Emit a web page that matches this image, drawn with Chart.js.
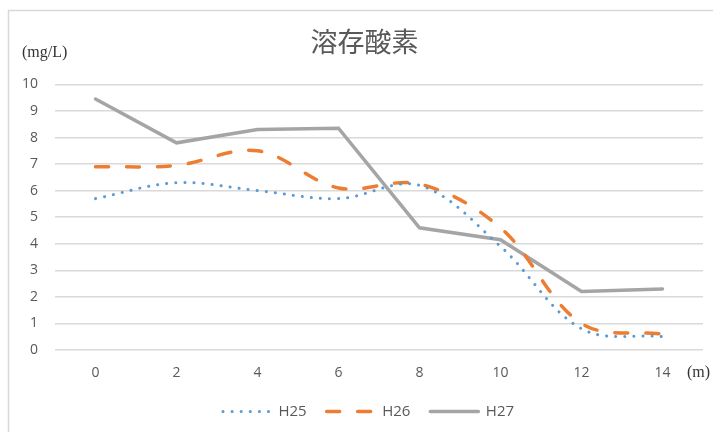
<!DOCTYPE html>
<html lang="ja">
<head>
  <meta charset="UTF-8">
  <title>溶存酸素</title>
  <style>
    html, body {
      margin: 0;
      padding: 0;
      background: #ffffff;
    }

    .frame {
      position: relative;
      width: 713px;
      height: 432px;
    }

    #doChart {
      display: block;
    }
  </style>
</head>
<body>
  <div class="frame">
    <canvas id="doChart" width="713" height="432"></canvas>
  </div>

  <script src="https://cdn.jsdelivr.net/npm/chart.js"></script>
  <script>
    const depths = ['0', '2', '4', '6', '8', '10', '12', '14'];
    const h25 = [5.7, 6.3, 6.0, 5.7, 6.2, 3.9, 0.8, 0.5];
    const h26 = [6.9, 6.95, 7.5, 6.1, 6.25, 4.6, 1.0, 0.6];
    const h27 = [9.45, 7.8, 8.3, 8.35, 4.6, 4.15, 2.2, 2.3];
    const yTicks = [0, 1, 2, 3, 4, 5, 6, 7, 8, 9, 10];

    const textColor = '#595959';

    // units, outer border, and title/legend nudged right like the original
    const extras = {
      id: 'extras',
      afterLayout(chart) {
        chart.legend.left += 12;
        chart.legend.right += 12;
        chart.titleBlock.left += 8;
        chart.titleBlock.right += 8;
      },
      afterDraw(chart) {
        const ctx = chart.ctx;
        ctx.save();
        ctx.strokeStyle = '#d9d9d9';
        ctx.lineWidth = 1.5;
        ctx.strokeRect(8.5, 10.5, 720, 440);
        ctx.fillStyle = '#333333';
        ctx.font = '16px "Liberation Serif"';
        ctx.textBaseline = 'middle';
        ctx.textAlign = 'left';
        ctx.fillText('(mg/L)', 22, 53);
        ctx.fillText('(m)', 687, 373);
        ctx.restore();
      }
    };

    new Chart(document.getElementById('doChart'), {
      type: 'line',
      data: {
        labels: depths,
        datasets: [{
          label: 'H25',
          data: h25,
          borderColor: '#5b9bd5',
          backgroundColor: '#5b9bd5',
          borderWidth: 3,
          borderDash: [0.1, 9],
          borderCapStyle: 'round',
          tension: 0.35,
          pointRadius: 0
        }, {
          label: 'H26',
          data: h26,
          borderColor: '#ed7d31',
          backgroundColor: '#ed7d31',
          borderWidth: 3.5,
          borderDash: [13, 18],
          borderCapStyle: 'round',
          tension: 0.35,
          pointRadius: 0
        }, {
          label: 'H27',
          data: h27,
          borderColor: '#a5a5a5',
          backgroundColor: '#a5a5a5',
          borderWidth: 3.5,
          borderCapStyle: 'round',
          tension: 0,
          pointRadius: 0
        }]
      },
      options: {
        responsive: false,
        animation: false,
        layout: {
          padding: { left: 10, right: 10, top: 10, bottom: 3 }
        },
        plugins: {
          title: {
            display: true,
            text: '溶存酸素',
            color: textColor,
            font: { family: '"Noto Sans CJK JP"', size: 27, weight: 'normal' },
            padding: { top: 16, bottom: 26 }
          },
          legend: {
            position: 'bottom',
            labels: {
              usePointStyle: true,
              pointStyle: 'line',
              pointStyleWidth: 48,
              boxHeight: 3,
              color: textColor,
              padding: 20,
              font: { family: '"Open Sans"', size: 15 },
              generateLabels(chart) {
                return chart.data.datasets.map((ds, i) => ({
                  text: ds.label,
                  datasetIndex: i,
                  fillStyle: ds.borderColor,
                  strokeStyle: ds.borderColor,
                  fontColor: textColor,
                  lineWidth: ds.borderWidth,
                  lineDash: ds.borderDash || [],
                  lineCap: ds.borderCapStyle,
                  pointStyle: 'line',
                  hidden: false
                }));
              }
            }
          },
          tooltip: { enabled: false }
        },
        scales: {
          x: {
            offset: true,
            afterFit(scale) { scale.height = 34; },
            grid: { display: false },
            border: { display: false },
            ticks: {
              color: textColor,
              padding: 7,
              font: { family: '"Open Sans"', size: 14 }
            }
          },
          y: {
            min: 0,
            max: 10,
            afterFit(scale) { scale.width = 45; },
            afterBuildTicks(scale) { scale.ticks = yTicks.map(v => ({ value: v })); },
            grid: { color: '#d9d9d9', lineWidth: 1.5, drawTicks: false },
            border: { display: false },
            ticks: {
              color: textColor,
              padding: 17,
              font: { family: '"Open Sans"', size: 14 }
            }
          }
        }
      },
      plugins: [extras]
    });
  </script>
</body>
</html>
